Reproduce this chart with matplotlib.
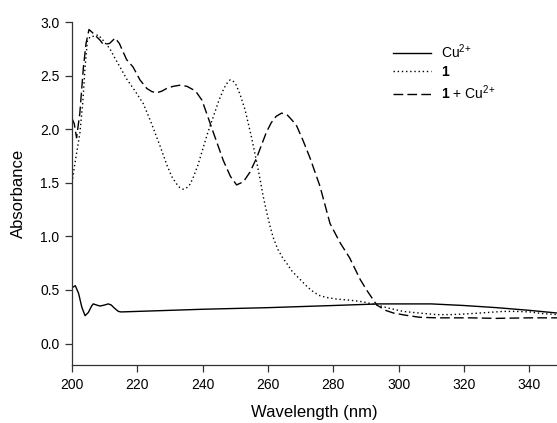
import numpy as np
import matplotlib
matplotlib.use("Agg")
import matplotlib.pyplot as plt

plt.rcParams["font.family"] = ["Liberation Sans", "DejaVu Sans"]
plt.rcParams["mathtext.fontset"] = "custom"
plt.rcParams["mathtext.rm"] = "Liberation Sans"
plt.rcParams["mathtext.bf"] = "Liberation Sans:bold"

# values
cu_wl = [200, 201, 202, 203, 204, 205, 206, 206.5, 208, 208.6, 210, 211.1, 212, 213,
         214.2, 215, 220, 240, 260, 280, 294, 300, 310, 320, 330, 340, 348.5]
cu_abs = [0.52, 0.54, 0.47, 0.34, 0.26, 0.29, 0.35, 0.37, 0.355, 0.35, 0.36, 0.37, 0.36,
          0.33, 0.30, 0.295, 0.30, 0.32, 0.335, 0.355, 0.37, 0.37, 0.37, 0.355, 0.335,
          0.31, 0.285]

l1_wl = [200, 201, 202.4, 203.3, 204, 204.7, 205.5, 207, 208, 209.5, 211.6, 213, 214.7,
         216.7, 219, 221.8, 224, 227, 229, 230.5, 232, 233, 234, 235, 236, 237, 238.5,
         240, 241.5, 243.3, 245, 246.5, 247.5, 248.4, 249.3, 250.3, 251.5, 253, 255,
         256.5, 257.6, 258.5, 259.5, 260.5, 261.6, 263, 264.5, 265.7, 267.5, 269.8,
         272, 274, 276, 278, 281, 285, 289, 293.3, 297, 301.4, 304.5, 308, 311.7, 316,
         319.7, 325, 332, 336, 340.2, 344, 348.5]
l1_abs = [1.50, 1.70, 1.96, 2.25, 2.58, 2.82, 2.86, 2.87, 2.88, 2.83, 2.75, 2.67, 2.58,
          2.47, 2.37, 2.24, 2.08, 1.84, 1.67, 1.56, 1.49, 1.455, 1.44, 1.45, 1.48, 1.54,
          1.66, 1.81, 1.96, 2.12, 2.27, 2.38, 2.43, 2.46, 2.45, 2.41, 2.32, 2.18, 1.92,
          1.70, 1.53, 1.38, 1.24, 1.11, 0.99, 0.88, 0.80, 0.75, 0.67, 0.60, 0.53, 0.48,
          0.445, 0.43, 0.415, 0.405, 0.39, 0.36, 0.33, 0.30, 0.29, 0.28, 0.27, 0.27,
          0.275, 0.285, 0.30, 0.30, 0.295, 0.28, 0.27]

lc_wl = [200, 200.7, 201.4, 202.4, 203.5, 204.3, 205.2, 206.3, 207.6, 208.6, 209.6,
         211.5, 213.2, 214.5, 216.7, 218.7, 220.8, 222.9, 224.5, 226, 227.5, 229, 231,
         233, 235.2, 237, 238.2, 239.8, 241.2, 243.5, 246.3, 248.5, 250.4, 252.5, 254.5,
         256.5, 258, 259.5, 261, 262.5, 264.2, 266, 267.5, 268.8, 270.8, 272.9, 275.9,
         279, 282.1, 285, 288.2, 290.2, 293.3, 296, 298.4, 302, 306.5, 312, 321.8, 330,
         340, 348.5]
lc_abs = [2.10, 2.05, 1.92, 2.15, 2.58, 2.80, 2.93, 2.90, 2.86, 2.83, 2.79, 2.80, 2.85,
          2.80, 2.65, 2.58, 2.46, 2.38, 2.35, 2.34, 2.355, 2.38, 2.40, 2.41, 2.40, 2.37,
          2.34, 2.27, 2.15, 1.95, 1.71, 1.56, 1.48, 1.51, 1.60, 1.73, 1.85, 1.97, 2.06,
          2.12, 2.15, 2.13, 2.08, 2.03, 1.89, 1.73, 1.47, 1.12, 0.94, 0.80, 0.60, 0.50,
          0.36, 0.31, 0.285, 0.265, 0.245, 0.24, 0.24, 0.235, 0.24, 0.24]

fig = plt.figure(figsize=(5.57, 4.23), dpi=100)
ax = fig.add_axes([72 / 557, 1 - 365 / 423, 1 - 72 / 557, (365 - 22) / 423])

ax.plot(cu_wl, cu_abs, color="black", lw=1.0, ls="-", label="Cu$^{2}$$^{+}$")
ax.plot(l1_wl, l1_abs, color="black", lw=1.0, ls=(0, (1, 2)), label=r"$\mathbf{1}$")
ax.plot(lc_wl, lc_abs, color="black", lw=1.0, ls=(0, (7, 3)),
        label=r"$\mathbf{1}$ + Cu$^{2}$$^{+}$")

ax.set_xlim(200, 348.5)
ax.set_ylim(-0.2, 3.0)
ax.set_xticks(np.arange(200, 341, 20))
ax.set_yticks(np.arange(0, 3.01, 0.5))
ax.set_yticklabels([f"{v:.1f}" for v in np.arange(0, 3.01, 0.5)])

for s in ["top", "right"]:
    ax.spines[s].set_visible(False)
for s in ["left", "bottom"]:
    ax.spines[s].set_color("#333333")
    ax.spines[s].set_linewidth(0.9)
ax.tick_params(direction="out", length=5, width=0.9, color="#333333",
               labelsize=10, pad=4)

ax.set_xlabel("Wavelength (nm)", fontsize=12, labelpad=10)
ax.set_ylabel("Absorbance", fontsize=12, labelpad=10)

ax.legend(loc="upper left", bbox_to_anchor=(380 / 557, 1 - 30 / 423),
          bbox_transform=fig.transFigure, frameon=False, fontsize=10,
          handlelength=2.8, handletextpad=0.7, labelspacing=0.3)

fig.savefig("out.png", dpi=100)
